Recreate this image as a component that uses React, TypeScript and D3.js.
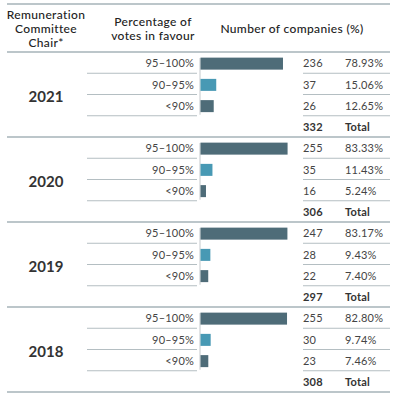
import React from 'react'
import * as d3 from 'd3'

const width = 395
const height = 408

const years = ['2021', '2020', '2019', '2018']
const bands = ['95–100%', '90–95%', '<90%']
const counts = [
  [236, 37, 26],
  [255, 35, 16],
  [247, 28, 22],
  [255, 30, 23],
]
const percents = [
  [78.93, 15.06, 12.65],
  [83.33, 11.43, 5.24],
  [83.17, 9.43, 7.4],
  [82.8, 9.74, 7.46],
]
const totals = [332, 306, 297, 308]

const barColors = ['#4e6c78', '#4899b4', '#4e6c78']
const font = 'Lato, "Open Sans", sans-serif'
const textColor = '#333'

const headTop = 4
const headBottom = 52
const rowH = 21.25
const sectionH = rowH * 4
const left = 7
const right = 390

const App = () => {
  const x = d3.scaleLinear().domain([0, 100]).range([200, 304.5])
  const sectionY = (i: number) => headBottom + i * sectionH
  const rowMid = (i: number, r: number) => sectionY(i) + r * rowH + rowH / 2 + 1

  return (
    <svg width={width} height={height} style={{ position: 'absolute', left: 0, top: 0 }} fontFamily={font}>
      <rect width={width} height={height} fill="#fff" />

      {/* header */}
      <line x1={left} x2={right} y1={headTop} y2={headTop} stroke="#a6b3b9" strokeWidth={1.5} />
      <line x1={left} x2={right} y1={headBottom} y2={headBottom} stroke="#a6b3b9" strokeWidth={1.5} />
      <g fontSize={12} fontWeight={500} fill="#222" letterSpacing={0.35} textAnchor="middle">
        <text>
          <tspan x={46} y={19}>Remuneration</tspan>
          <tspan x={46} y={33}>Committee</tspan>
          <tspan x={46} y={47}>Chair*</tspan>
        </text>
        <text>
          <tspan x={153} y={26}>Percentage of</tspan>
          <tspan x={153} y={40}>votes in favour</tspan>
        </text>
        <text x={292} y={33}>Number of companies (%)</text>
      </g>

      {years.map((year, i) => {
        const top = sectionY(i)
        return (
          <g key={year}>
            <text x={46} y={top + sectionH / 2 + 2} dy="0.35em" textAnchor="middle" fontSize={15} fontWeight={700} fill={textColor}>
              {year}
            </text>
            <line x1={x(0)} x2={x(0)} y1={top + 6} y2={top + rowH * 3 - 1} stroke="#c4c9cc" strokeWidth={1} />
            {bands.map((band, r) => {
              const cy = rowMid(i, r)
              const lineY = top + (r + 1) * rowH
              return (
                <g key={band}>
                  <text x={194} y={cy} dy="0.35em" textAnchor="end" fontSize={11} fill="#444" letterSpacing={0.2}>{band}</text>
                  <line x1={87} x2={197} y1={lineY} y2={lineY} stroke="#b4bec2" strokeWidth={1} />
                  <rect x={x(0) + 0.5} y={cy - 6} width={x(percents[i][r]) - x(0)} height={12} fill={barColors[r]} />
                  <text x={303} y={cy} dy="0.35em" fontSize={11} fill="#444" letterSpacing={0.2}>{counts[i][r]}</text>
                  <text x={345} y={cy} dy="0.35em" fontSize={11} fill="#444" letterSpacing={0.2}>{percents[i][r].toFixed(2)}%</text>
                  <line x1={303} x2={right} y1={lineY} y2={lineY} stroke="#b4bec2" strokeWidth={1} />
                </g>
              )
            })}
            <text x={303} y={rowMid(i, 3)} dy="0.35em" fontSize={11} fontWeight={700} fill={textColor} letterSpacing={0.2}>{totals[i]}</text>
            <text x={345} y={rowMid(i, 3)} dy="0.35em" fontSize={11} fontWeight={700} fill={textColor} letterSpacing={0.2}>Total</text>
            <line x1={left} x2={right} y1={top + sectionH} y2={top + sectionH} stroke="#a6b3b9" strokeWidth={1.5} />
          </g>
        )
      })}
    </svg>
  )
}

export default App
